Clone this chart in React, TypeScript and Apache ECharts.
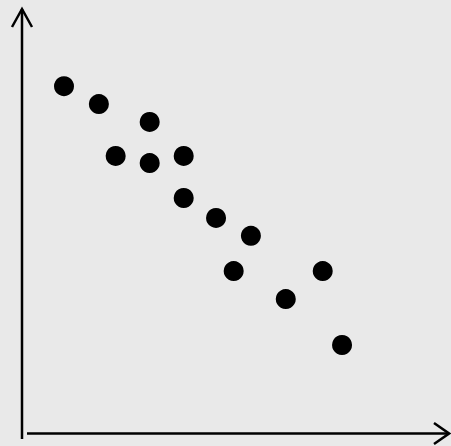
import React, { useEffect, useRef } from "react";
import * as echarts from "echarts";

const xValues = [10.0, 18.3, 30.4, 22.3, 30.4, 38.5, 38.5, 46.2, 54.5, 50.4, 71.6, 62.8, 76.2];
const yValues = [81.6, 77.4, 73.2, 65.2, 63.5, 65.2, 55.3, 50.6, 46.4, 38.1, 38.1, 31.5, 20.7];

export default function App() {
  const ref = useRef<HTMLDivElement>(null);
  useEffect(() => {
    document.body.style.margin = "0";
    const chart = echarts.init(ref.current!, null, { renderer: "svg" });
    const lineStyle = { stroke: "#000", lineWidth: 2.5, fill: null as any };
    chart.setOption({
      animation: false,
      backgroundColor: "#e9e9e9",
      grid: { left: 22, top: 8, width: 420, height: 425 },
      xAxis: {
        type: "value", min: 0, max: 100,
        axisLine: { show: false }, axisTick: { show: false },
        axisLabel: { show: false }, splitLine: { show: false },
      },
      yAxis: {
        type: "value", min: 0, max: 100,
        axisLine: { show: false }, axisTick: { show: false },
        axisLabel: { show: false }, splitLine: { show: false },
      },
      graphic: [
        { type: "line", shape: { x1: 22, y1: 9, x2: 22, y2: 439 }, style: lineStyle },
        { type: "polyline", shape: { points: [[12, 27], [22, 9], [32, 27]] }, style: lineStyle },
        { type: "line", shape: { x1: 27, y1: 433.5, x2: 449, y2: 433.5 }, style: lineStyle },
        { type: "polyline", shape: { points: [[434, 423], [449, 433.5], [434, 444]] }, style: lineStyle },
      ],
      series: [
        {
          type: "scatter",
          symbol: "circle",
          symbolSize: 20,
          itemStyle: { color: "#000", opacity: 1 },
          data: xValues.map((x, i) => [x, yValues[i]]),
        },
      ],
    });
    return () => chart.dispose();
  }, []);
  return <div ref={ref} style={{ position: "fixed", left: 0, top: 0, width: 451, height: 446 }} />;
}
